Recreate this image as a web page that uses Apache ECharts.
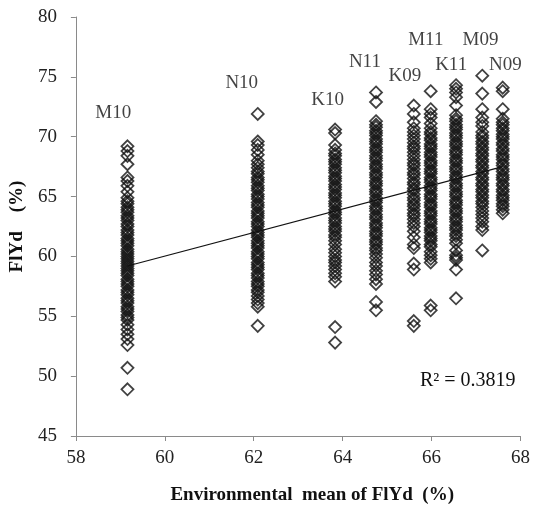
<!DOCTYPE html>
<html>
<head>
<meta charset="utf-8">
<title>FlYd vs environmental mean</title>
<script src="https://cdn.jsdelivr.net/npm/echarts@6/dist/echarts.min.js"></script>
<style>
  html, body { margin: 0; padding: 0; background: #fff; }
  #chart { width: 533px; height: 510px; }
</style>
</head>
<body>
<div id="chart"></div>
<script>
// environments and their mean FlYd (x position of each column)
const envNames = ['M10', 'N10', 'K10', 'N11', 'K09', 'M11', 'K11', 'M09', 'N09'];
const envMeans = [59.16, 62.09, 63.83, 64.75, 65.6, 65.98, 66.55, 67.14, 67.6];

// FlYd values of the lines in each environment (%)
const m10 = [69.2, 68.8, 68.4, 67.7, 66.6, 66.3, 65.9, 65.4,
  64.9, 64.6, 64.4, 64.1, 63.9, 63.7, 63.4, 63.2, 63.0, 62.7, 62.5, 62.2, 62.0, 61.8, 61.5, 61.3,
  61.1, 60.9, 60.6, 60.4, 60.2, 60.0, 59.8, 59.6, 59.4, 59.2, 59.0, 58.8, 58.6, 58.4, 58.1, 57.9,
  57.7, 57.5, 57.2, 57.0, 56.8, 56.5, 56.3, 56.1, 55.8, 55.6, 55.4, 55.1, 54.9, 54.7,
  54.3, 53.9, 53.5, 53.1, 52.6, 50.7, 48.9];
const n10 = [71.9, 69.6, 69.3, 68.9, 68.5, 68.0, 67.7,
  67.4, 67.1, 66.9, 66.6, 66.4, 66.2, 65.9, 65.7, 65.5, 65.2, 65.0, 64.8, 64.5, 64.3, 64.1, 63.8,
  63.6, 63.4, 63.2, 62.9, 62.7, 62.5, 62.2, 62.0, 61.8, 61.6, 61.3, 61.1, 60.9, 60.7, 60.4, 60.2,
  60.0, 59.8, 59.5, 59.3, 59.1, 58.9, 58.6, 58.4, 58.2, 57.9, 57.7, 57.5, 57.2, 57.0, 56.7, 56.4,
  56.1, 55.8, 54.2];
const k10 = [70.6, 70.3, 69.3, 68.9,
  68.6, 68.4, 68.1, 67.9, 67.7, 67.4, 67.2, 67.0, 66.7, 66.5, 66.3, 66.0, 65.8, 65.6, 65.3, 65.1,
  64.9, 64.6, 64.4, 64.2, 63.9, 63.7, 63.5, 63.2, 63.0, 62.8, 62.5, 62.3, 62.1, 61.8, 61.6, 61.3,
  61.0, 60.6, 60.3, 60.0, 59.7, 59.5, 59.2, 58.9, 58.6, 58.3, 57.9, 54.1, 52.8];
const n11 = [73.7, 72.9,
  71.3, 71.0, 70.8, 70.5, 70.3, 70.1, 69.8, 69.6, 69.4, 69.1, 68.9, 68.7, 68.4, 68.2, 68.0, 67.7,
  67.5, 67.3, 67.0, 66.8, 66.6, 66.3, 66.1, 65.9, 65.6, 65.4, 65.2, 64.9, 64.7, 64.5, 64.2, 64.0,
  63.8, 63.5, 63.3, 63.1, 62.8, 62.6, 62.4, 62.1, 61.9, 61.7, 61.4, 61.2, 61.0, 60.7, 60.5, 60.2,
  59.9, 59.5, 59.2, 58.8, 58.5, 58.1, 57.7, 56.2, 55.5];
const k09 = [72.6, 71.9, 71.2,
  70.7, 70.4, 70.1, 69.8, 69.5, 69.2, 69.0, 68.7, 68.4, 68.1, 67.8, 67.6, 67.3, 67.0, 66.8, 66.5,
  66.2, 66.0, 65.7, 65.5, 65.2, 64.9, 64.7, 64.4, 64.2, 63.9, 63.6, 63.4, 63.1, 62.8, 62.5,
  62.1, 61.6, 61.0, 60.7, 59.4, 58.9, 54.6, 54.2];
const m11 = [73.8, 72.3, 71.9, 71.6, 71.1,
  70.7, 70.4, 70.2, 69.9, 69.7, 69.4, 69.2, 69.0, 68.7, 68.5, 68.3, 68.0, 67.8, 67.6, 67.3, 67.1,
  66.9, 66.6, 66.4, 66.2, 65.9, 65.7, 65.5, 65.2, 65.0, 64.8, 64.5, 64.3, 64.1, 63.8, 63.6, 63.4,
  63.1, 62.9, 62.7, 62.4, 62.2, 62.0, 61.7, 61.5, 61.3, 61.0, 60.8,
  60.4, 60.1, 59.8, 59.5, 55.9, 55.5];
const k11 = [74.3, 74.0, 73.7, 73.3, 72.6,
  71.8, 71.5, 71.3, 71.0, 70.8, 70.6, 70.3, 70.1, 69.9, 69.6, 69.4, 69.2, 68.9, 68.7, 68.5, 68.2,
  68.0, 67.8, 67.5, 67.3, 67.1, 66.8, 66.6, 66.4, 66.1, 65.9, 65.7, 65.4, 65.2, 65.0, 64.7, 64.5,
  64.3, 64.0, 63.8, 63.6, 63.3, 63.1, 62.9, 62.6, 62.4, 62.2, 61.9, 61.7, 61.4, 61.1,
  60.5, 60.1, 59.9, 59.7, 58.9, 56.5];
const m09 = [75.1, 73.6, 72.3, 71.6, 71.2, 70.9,
  70.4, 70.1, 69.9, 69.6, 69.4, 69.1, 68.9, 68.6, 68.4, 68.1, 67.9, 67.6, 67.4, 67.1, 66.9, 66.6,
  66.4, 66.1, 65.9, 65.6, 65.4, 65.1, 64.9, 64.6, 64.4, 64.1, 63.8, 63.5, 63.2,
  62.9, 62.5, 62.2, 60.5];
const n09 = [74.1, 73.8, 72.3,
  71.5, 71.2, 71.0, 70.7, 70.5, 70.2, 70.0, 69.8, 69.5, 69.3, 69.0, 68.8, 68.5, 68.3, 68.1, 67.8,
  67.6, 67.3, 67.1, 66.8, 66.6, 66.4, 66.1, 65.9, 65.6, 65.4, 65.1, 64.9, 64.7, 64.4, 64.2, 63.9,
  63.6];
const envValues = [m10, n10, k10, n11, k09, m11, k11, m09, n09];

// linear trend (end points) and its R²
const trendX = [59.16, 67.6];
const trendY = [59.2, 67.5];
const rSquared = '0.3819';

// where the environment names sit (annotation placement, data units)
const labelPos = [[58.84, 72.0], [61.73, 74.5], [63.66, 73.1], [64.5, 76.2], [65.4, 75.1],
  [65.87, 78.1], [66.44, 76.0], [67.1, 78.1], [67.66, 76.0]];

const serif = "'Liberation Serif', 'DejaVu Serif', serif";
const axisGray = '#8a8a8a';

const chart = echarts.init(document.getElementById('chart'));

const pointSeries = envValues.map((vals, i) => ({
  name: envNames[i],
  type: 'scatter',
  symbol: 'diamond',
  symbolSize: 12,
  itemStyle: {
    color: 'rgba(255,255,255,0)',
    borderColor: '#111',
    borderWidth: 1.8,
  },
  emphasis: { disabled: true },
  data: vals.map(v => [envMeans[i], v]),
}));

const option = {
  backgroundColor: '#fff',
  animation: false,
  grid: {
    left: 72,
    right: 11,
    top: 17,
    bottom: 73,
  },
  xAxis: {
    type: 'value',
    min: 58,
    max: 68,
    interval: 2,
    name: 'Environmental  mean of FlYd  (%)',
    nameLocation: 'middle',
    nameGap: 50,
    nameTextStyle: { fontFamily: serif, fontWeight: 'bold', fontSize: 19, color: '#111', padding: [0, 0, 0, 28] },
    axisLine: { lineStyle: { color: axisGray } },
    axisTick: { show: true, length: 5, lineStyle: { color: axisGray } },
    axisLabel: { fontFamily: serif, fontSize: 19, color: '#222', margin: 13 },
    splitLine: { show: false },
  },
  yAxis: {
    type: 'value',
    min: 45,
    max: 80,
    interval: 5,
    name: 'FlYd    (%)',
    nameLocation: 'middle',
    nameGap: 40,
    nameRotate: 90,
    nameTextStyle: { fontFamily: serif, fontWeight: 'bold', fontSize: 19, color: '#111' },
    axisLine: { show: true, lineStyle: { color: axisGray } },
    axisTick: { show: true, length: 5, lineStyle: { color: axisGray } },
    axisLabel: { fontFamily: serif, fontSize: 19, color: '#222', margin: 19 },
    splitLine: { show: false },
  },
  series: [
    ...pointSeries,
    {
      name: 'trend',
      type: 'line',
      symbol: 'none',
      lineStyle: { color: '#111', width: 1.2 },
      data: trendX.map((x, i) => [x, trendY[i]]),
      z: 5,
    },
    {
      name: 'names',
      type: 'scatter',
      symbolSize: 0,
      silent: true,
      label: {
        show: true,
        position: 'inside',
        formatter: p => envNames[p.dataIndex],
        fontFamily: serif,
        fontSize: 19,
        color: '#111',
      },
      data: labelPos,
    },
  ],
  graphic: [
    {
      type: 'text',
      left: 420,
      top: 371,
      style: {
        text: 'R² = ' + rSquared,
        font: '20px ' + serif,
        fill: '#111',
      },
    },
  ],
};

chart.setOption(option);
</script>
</body>
</html>
